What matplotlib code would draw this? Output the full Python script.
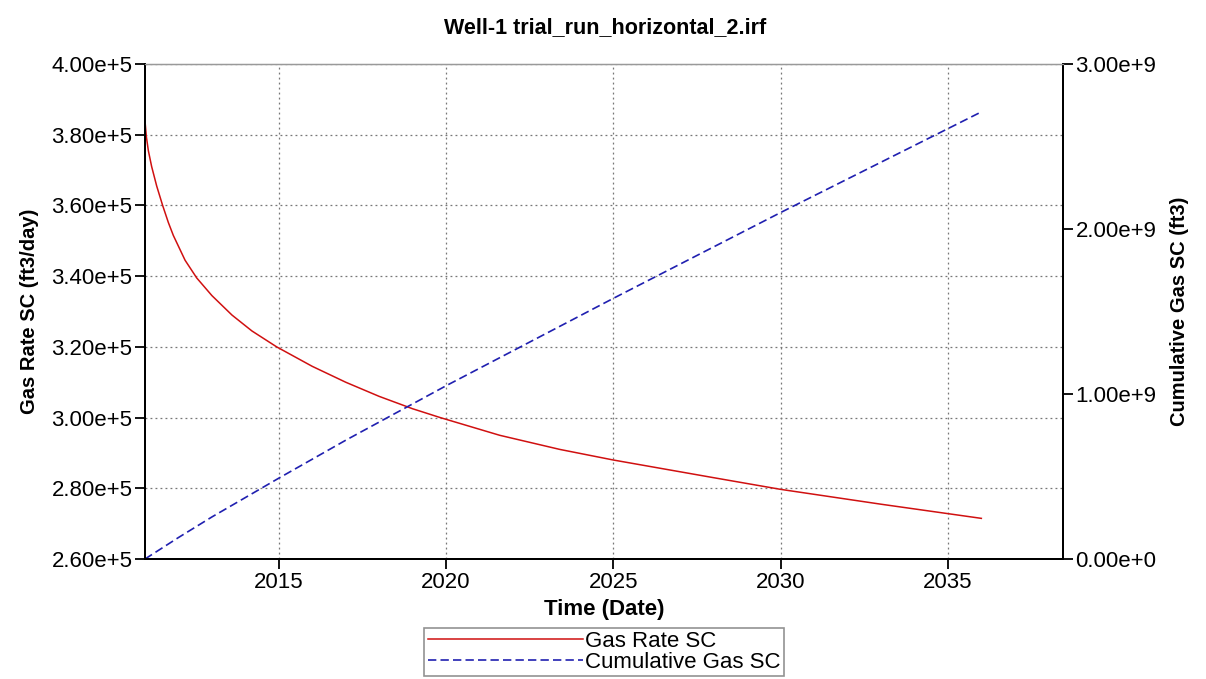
"Well-1 gas rate and cumulative gas"
import pandas as pd
import matplotlib
matplotlib.use("Agg")
from matplotlib import pyplot as plt
from matplotlib import dates as mdates
from matplotlib.ticker import FuncFormatter

plt.rcParams['font.family'] = ['Liberation Sans', 'DejaVu Sans']

# gas rate (ft3/day)
rate_dates = ["2011-01-01", "2011-01-16", "2011-02-07", "2011-03-15", "2011-05-09",
              "2011-07-13", "2011-09-13", "2011-11-07", "2012-03-14", "2012-07-19",
              "2013-01-01", "2013-08-08", "2014-03-14", "2014-12-09", "2016-01-01",
              "2017-01-01", "2018-01-01", "2019-01-01", "2019-10-30", "2021-08-08",
              "2023-05-27", "2025-01-01", "2028-01-01", "2030-01-01", "2033-01-01",
              "2036-01-01"]
rate = [3.84e5, 3.795e5, 3.755e5, 3.71e5, 3.655e5,
        3.60e5, 3.552e5, 3.515e5, 3.445e5, 3.395e5,
        3.345e5, 3.29e5, 3.245e5, 3.20e5, 3.145e5,
        3.10e5, 3.06e5, 3.025e5, 3.00e5, 2.95e5,
        2.91e5, 2.88e5, 2.83e5, 2.797e5, 2.755e5,
        2.715e5]

# cumulative gas (ft3)
cum_dates = ["2011-01-01", "2012-01-01", "2013-01-01", "2015-01-01", "2017-01-01",
             "2020-01-01", "2025-01-01", "2030-01-01", "2036-01-01"]
cum = [0.0, 0.13e9, 0.255e9, 0.49e9, 0.72e9,
       1.05e9, 1.58e9, 2.10e9, 2.71e9]

year_ticks = [2015, 2020, 2025, 2030, 2035]
left_ticks = [2.6e5, 2.8e5, 3.0e5, 3.2e5, 3.4e5, 3.6e5, 3.8e5, 4.0e5]
right_ticks = [0.0, 1e9, 2e9, 3e9]


def sci(v, pos=None):
    if v == 0:
        return "0.00e+0"
    e = 0
    m = abs(v)
    while m >= 10:
        m /= 10
        e += 1
    return "%.2fe+%d" % (v / 10 ** e, e)


fig = plt.figure(figsize=(12.06, 6.79), dpi=100)
ax1 = fig.add_axes([0.1202, 0.1767, 0.7612, 0.729])
ax2 = ax1.twinx()

l1, = ax1.plot(pd.to_datetime(rate_dates), rate, color='#d01010', lw=1.1, label='Gas Rate SC')
l2, = ax2.plot(pd.to_datetime(cum_dates), cum, color='#2020b0', lw=1.2,
               linestyle=(0, (5, 2.5)), label='Cumulative Gas SC')

ax1.set_xlim(pd.Timestamp("2011-01-01"), pd.Timestamp("2038-06-10"))
ax1.set_ylim(2.6e5, 4.0e5)
ax2.set_ylim(0, 3e9)

ax1.set_xticks([pd.Timestamp("%d-01-01" % y) for y in year_ticks])
ax1.xaxis.set_major_formatter(mdates.DateFormatter("%Y"))
ax1.set_yticks(left_ticks)
ax2.set_yticks(right_ticks)
ax1.yaxis.set_major_formatter(FuncFormatter(sci))
ax2.yaxis.set_major_formatter(FuncFormatter(sci))

ax1.grid(True, color='#777777', linestyle=(0, (1.5, 2.5)), lw=0.9)
for ax in (ax1, ax2):
    ax.tick_params(direction='out', length=7, width=1.3, labelsize=16, colors='black', pad=2)
    for s in ('left', 'bottom', 'right'):
        ax.spines[s].set_linewidth(1.4)
    ax.spines['top'].set_color('#999999')
    ax.spines['top'].set_linewidth(0.9)

ax1.set_ylabel("Gas Rate SC (ft3/day)", fontsize=14.5, fontweight='bold', labelpad=9)
ax2.set_ylabel("Cumulative Gas SC (ft3)", fontsize=14.5, fontweight='bold', labelpad=10)
ax1.set_xlabel("Time (Date)", fontsize=16, fontweight='bold', labelpad=5)
fig.suptitle("Well-1 trial_run_horizontal_2.irf", fontsize=15.5, fontweight='bold',
             x=0.502, y=0.975)

leg = fig.legend(handles=[l1, l2], loc='lower center', bbox_to_anchor=(0.501, 0.004),
                 fontsize=16, handlelength=7, handletextpad=0.1, borderpad=0.15,
                 labelspacing=0.0, borderaxespad=0.0, frameon=True, fancybox=False)
leg.get_frame().set_edgecolor('#777777')
leg.get_frame().set_linewidth(1.2)

fig.savefig("out.png", dpi=100)
